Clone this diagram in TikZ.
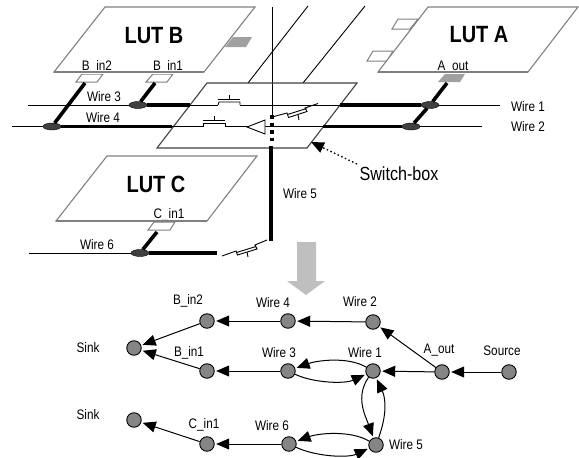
\documentclass[tikz,border=0pt]{standalone}
\usepackage{fontspec}
\setmainfont[FakeStretch=0.85]{Liberation Sans}
\usetikzlibrary{arrows.meta,shapes.geometric}
\definecolor{lutgray}{HTML}{808080}
\definecolor{tabgray}{HTML}{A0A0A0}
\definecolor{padgray}{HTML}{BFBFBF}
\definecolor{dotgray}{HTML}{858585}
\definecolor{juncgray}{HTML}{404040}
\tikzset{
  lut/.style={draw=lutgray, line width=1.1pt, fill=white},
  pin/.style={draw=lutgray, line width=1pt, fill=white},
  thin wire/.style={line width=0.9pt, black},
  thick wire/.style={line width=3.6pt, black},
  junc/.style={ellipse, draw=black, fill=juncgray, minimum width=18pt, minimum height=7pt, inner sep=0pt},
  lbl/.style={font=\fontsize{13.8}{16}\selectfont, inner sep=0pt},
  lutname/.style={font=\fontsize{23.5}{26}\selectfont\bfseries, inner sep=0pt},
  vertex/.style={circle, draw=black, line width=0.9pt, fill=dotgray, minimum size=14.5pt, inner sep=0pt},
  edge/.style={line width=1pt, -{Triangle[length=13pt,width=11pt]}, shorten >=1.5pt}
}
\begin{document}
\begin{tikzpicture}[x=1pt,y=-1pt]
    \useasboundingbox (0,0) rectangle (579,458);

    % tracks above the switch box
    \draw[thin wire] (272,7) -- (272,116);
    \draw[thin wire] (248,83) -- (308,6);
    \draw[thin wire] (303,83) -- (365,6);

    % LUT B
    \draw[pin] (82,74) -- (103,74) -- (97,82) -- (76,82) -- cycle;
    \draw[pin] (153,74) -- (173,74) -- (167,82) -- (146,82) -- cycle;
    \fill[tabgray] (233,37) -- (252,37) -- (246,47) -- (225,47) -- cycle;
    \draw[lut] (105,7) -- (255,7) -- (204,72) -- (54,72) -- cycle;
    \node[lutname] (lutb) at (154,36) {LUT B};
    \node[lbl, anchor=base] (binb) at (97,70) {B\_in2};
    \node[lbl, anchor=base] (bina) at (168,70) {B\_in1};
    \draw[lut, fill=none] (54,72) -- (204,72);
    \fill[white] (54,73) rectangle (204,73.6);

    % LUT A
    \draw[pin] (398,19) -- (418,19) -- (410,29) -- (392,29) -- cycle;
    \draw[pin] (373,51) -- (393,51) -- (387,61) -- (367,61) -- cycle;
    \fill[tabgray] (445,74) -- (465,74) -- (460,82) -- (438,82) -- cycle;
    \draw[lut] (428,7) -- (578,7) -- (528,72) -- (378,72) -- cycle;
    \node[lutname] (luta) at (479,35) {LUT A};
    \node[lbl, anchor=base] (aout) at (453,70) {A\_out};
    \draw[lut, fill=none] (378,72) -- (528,72);
    \fill[white] (378,73) rectangle (528,73.6);

    % LUT C
    \draw[pin] (154,222) -- (175,222) -- (170,230) -- (148,230) -- cycle;
    \draw[lut] (107,156) -- (257,156) -- (207,221) -- (56,221) -- cycle;
    \node[lutname] (lutc) at (156,184) {LUT C};
    \node[lbl, anchor=base] (cina) at (169,218) {C\_in1};
    \draw[lut, fill=none] (56,221) -- (207,221);

    % switch box
    \draw[line width=1.1pt, black!75] (207,83) -- (357,83) -- (307,148) -- (157,148) -- cycle;

    % pin ends and wire ends
    \coordinate (pinb) at (85,83);
    \coordinate (pina) at (155,83);
    \coordinate (pinc) at (157,232);
    \coordinate (pinout) at (447,83);
    \coordinate (w1l) at (28,105);
    \coordinate (w1r) at (500,105);
    \coordinate (w2l) at (12,126.5);
    \coordinate (w2r) at (482,126.5);
    \coordinate (w6l) at (29,253);
    \coordinate (w6m) at (217,253);
    \coordinate (w3e) at (190,105);
    \coordinate (w4e) at (172,126.5);
    \coordinate (w1e) at (340,105);
    \coordinate (w2e) at (323,126.5);

    % wires and junctions
    \draw[thin wire] (w1l) -- (w1r);
    \draw[thin wire] (w2l) -- (w2r);
    \draw[thin wire] (w6l) -- (140,253);
    \node[junc] (jb) at (52,126.5) {};
    \node[junc] (ja) at (138,105) {};
    \node[junc] (jr) at (430,105) {};
    \node[junc] (jq) at (411,126.5) {};
    \node[junc] (jc) at (140,253) {};
    \draw[thick wire] (pinb) -- (jb);
    \draw[thick wire] (pina) -- (ja);
    \draw[thick wire] (pinc) -- (jc);
    \draw[thick wire] (pinout) -- (jr) -- (jq);
    \draw[thick wire] (jb) -- (w4e);
    \draw[thick wire] (ja) -- (w3e);
    \draw[thick wire] (jr) -- (w1e);
    \draw[thick wire] (jq) -- (w2e);
    \draw[thick wire] (jc) -- (w6m);

    % pass transistors
    \fill[white] (218,103) rectangle (240,107);
    \draw[thin wire] (218,105) -- (219,102) -- (240,102) -- (240,105);
    \draw[line width=1.2pt] (218,99.5) -- (240,99.5);
    \draw[thin wire] (229,99.5) -- (229,95);
    \fill[white] (203,125) rectangle (225,129);
    \draw[thin wire] (203,126.5) -- (203,123) -- (225,123) -- (225,126.5);
    \draw[line width=1.2pt] (203,120.5) -- (225,120.5);
    \draw[thin wire] (214,120.5) -- (214,116);

    % buffer
    \draw[thin wire, fill=white] (247,127) -- (265,120) -- (265,134) -- cycle;

    % wire 5
    \draw[line width=3.6pt, dash pattern=on 3.5pt off 4pt] (272,115) -- (272,143);
    \coordinate (w5t) at (271,146);
    \coordinate (w5b) at (271,241);
    \draw[thick wire] (w5t) -- (w5b);
    \draw[thin wire] (272,117) -- (287,113) -- (288.5,117.5) -- (307,111.5) -- (305,108) -- (318,103.5);
    \draw[thin wire] (287.5,114.5) -- (306.5,108.5);
    \draw[thin wire] (298,114.5) -- (299,120);
    \draw[thin wire] (222,256) -- (236,251) -- (237.5,255) -- (257,249) -- (255,245) -- (267,240);
    \draw[thin wire] (236.5,252.5) -- (256,246.5);
    \draw[thin wire] (247,252) -- (248,257);

    % wire labels
    \node[lbl] (lw3) at (104,97) {Wire 3};
    \node[lbl] (lw4) at (103,118) {Wire 4};
    \node[lbl] (lw1) at (528,107) {Wire 1};
    \node[lbl] (lw2) at (528,127) {Wire 2};
    \node[lbl] (lw5) at (300,194) {Wire 5};
    \node[lbl] (lw6) at (97,245) {Wire 6};

    % switch-box pointer
    \node[lbl, font=\fontsize{19}{22}\selectfont] (swlabel) at (399,174) {Switch-box};
    \coordinate (swtail) at (357,164);
    \coordinate (swtip) at (311,142);
    \draw[line width=1.3pt, dash pattern=on 1.5pt off 2.5pt, -{Triangle[length=13pt,width=11pt]}] (swtail) -- (swtip);

    % big arrow
    \fill[padgray] (297,242) -- (316,242) -- (316,281) -- (325,281) -- (306,295) -- (287,281) -- (297,281) -- cycle;

    % graph vertices
    \node[vertex] (sinka) at (134,348) {};
    \node[vertex] (sinkb) at (134,420) {};
    \node[vertex] (vbin2) at (207,321) {};
    \node[vertex] (vbin1) at (207,371) {};
    \node[vertex] (vcin1) at (207,444) {};
    \node[vertex] (vw4) at (288,321) {};
    \node[vertex] (vw3) at (288,371) {};
    \node[vertex] (vw6) at (289,444) {};
    \node[vertex] (vw2) at (373,322) {};
    \node[vertex] (vw1) at (373,371) {};
    \node[vertex] (vw5) at (376,445) {};
    \node[vertex] (vaout) at (442,372) {};
    \node[vertex] (vsrc) at (509,372) {};

    % graph edges
    \draw[edge] (vsrc) -- (vaout);
    \draw[edge] (vaout) -- (vw1);
    \draw[edge] (vaout) -- (vw2);
    \draw[edge] (vw2) -- (vw4);
    \draw[edge] (vw4) -- (vbin2);
    \draw[edge] (vbin2) -- (sinka);
    \draw[edge] (vw3) -- (vbin1);
    \draw[edge] (vbin1) -- (sinka);
    \draw[edge] (vw6) -- (vcin1);
    \draw[edge] (vcin1) -- (sinkb);
    \draw[edge] (vw1) to[out=150,in=20,looseness=0.8] (vw3);
    \draw[edge] (vw3) to[out=-25,in=-155,looseness=0.8] (vw1);
    \draw[edge] (vw1) to[out=-125,in=110] (vw5);
    \draw[edge] (vw5) to[out=70,in=-65] (vw1);
    \draw[edge] (vw5) to[out=150,in=20,looseness=0.8] (vw6);
    \draw[edge] (vw6) to[out=-25,in=-155,looseness=0.8] (vw5);

    % graph labels
    \node[lbl] (lsinka) at (88,348) {Sink};
    \node[lbl] (lsinkb) at (88,415) {Sink};
    \node[lbl] (lbin2) at (188,301) {B\_in2};
    \node[lbl] (lbin1) at (189,353) {B\_in1};
    \node[lbl] (lcin1) at (204,425) {C\_in1};
    \node[lbl] (lvw4) at (273,303) {Wire 4};
    \node[lbl] (lvw3) at (279,353) {Wire 3};
    \node[lbl] (lvw6) at (272,426) {Wire 6};
    \node[lbl] (lvw2) at (360,302) {Wire 2};
    \node[lbl] (lvw1) at (365,353) {Wire 1};
    \node[lbl] (lvw5) at (406,445) {Wire 5};
    \node[lbl] (laout) at (439,350) {A\_out};
    \node[lbl] (lsrc) at (502,351) {Source};
\end{tikzpicture}
\end{document}
